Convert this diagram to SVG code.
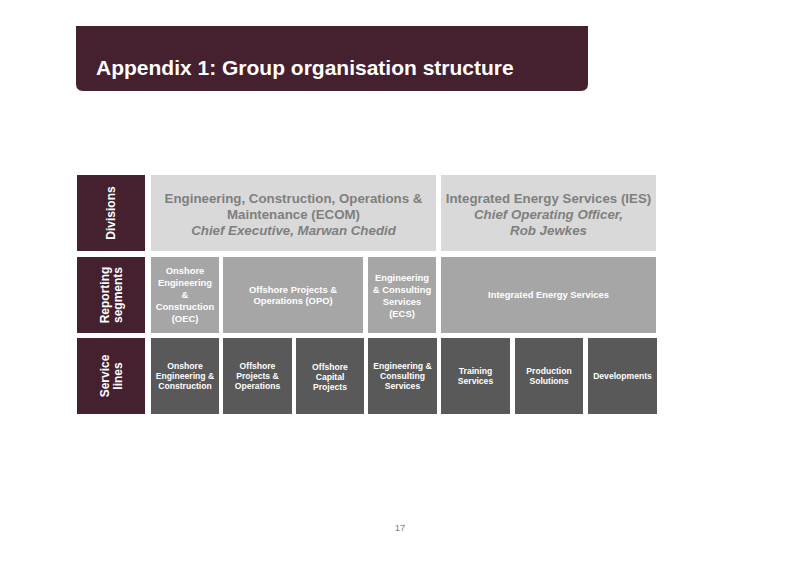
<svg xmlns="http://www.w3.org/2000/svg" width="800" height="566" viewBox="0 0 800 566">
<style>
text{font-family:"Liberation Sans",Arial,sans-serif;font-weight:bold}
.lab{fill:#45202f}
.labt{fill:#fff;font-size:12px}
.div{fill:#d9d9d9}
.divt{fill:#7f7f7f;font-size:13.3px}
.it{font-style:italic}
.seg{fill:#a6a6a6}
.segt{fill:#fff;font-size:9.4px}
.svc{fill:#595959}
.svct{fill:#fff;font-size:8.6px}
</style>
<rect width="800" height="566" fill="#fff"/>
<g id="title">
<path d="M76 26 H588 V84 Q588 91 581 91 H83 Q76 91 76 84 Z" fill="#45202f"/>
<text x="96" y="75" fill="#fff" font-size="21">Appendix 1: Group organisation structure</text>
</g>
<g id="label-divisions"><rect class="lab" x="77" y="175" width="68" height="76"/><text class="labt" transform="translate(115 213) rotate(-90)" text-anchor="middle">Divisions</text></g>
<g id="label-reporting"><rect class="lab" x="77" y="257" width="68" height="76"/><text class="labt" transform="translate(109 295) rotate(-90)" text-anchor="middle"><tspan x="0" y="0">Reporting</tspan><tspan x="0" y="13">segments</tspan></text></g>
<g id="label-service"><rect class="lab" x="77" y="338" width="68" height="76"/><text class="labt" transform="translate(109 376) rotate(-90)" text-anchor="middle"><tspan x="0" y="0">Service</tspan><tspan x="0" y="13">lines</tspan></text></g>
<g id="div-ecom"><rect class="div" x="151" y="175" width="285" height="76"/><text class="divt" text-anchor="middle"><tspan x="293.5" y="203">Engineering, Construction, Operations &amp;</tspan><tspan x="293.5" y="219">Maintenance (ECOM)</tspan><tspan class="it" x="293.5" y="235">Chief Executive, Marwan Chedid</tspan></text></g>
<g id="div-ies"><rect class="div" x="441" y="175" width="215" height="76"/><text class="divt" text-anchor="middle"><tspan x="548.5" y="203">Integrated Energy Services (IES)</tspan><tspan class="it" x="548.5" y="219">Chief Operating Officer,</tspan><tspan class="it" x="548.5" y="235">Rob Jewkes</tspan></text></g>
<g id="seg-oec"><rect class="seg" x="151" y="257" width="68" height="76"/><text class="segt" text-anchor="middle"><tspan x="185" y="274">Onshore</tspan><tspan x="185" y="286">Engineering</tspan><tspan x="185" y="298">&amp;</tspan><tspan x="185" y="310">Construction</tspan><tspan x="185" y="322">(OEC)</tspan></text></g>
<g id="seg-opo"><rect class="seg" x="223" y="257" width="140" height="76"/><text class="segt" text-anchor="middle"><tspan x="293" y="293">Offshore Projects &amp;</tspan><tspan x="293" y="304">Operations (OPO)</tspan></text></g>
<g id="seg-ecs"><rect class="seg" x="368" y="257" width="68" height="76"/><text class="segt" text-anchor="middle"><tspan x="402" y="281">Engineering</tspan><tspan x="402" y="293">&amp; Consulting</tspan><tspan x="402" y="305">Services</tspan><tspan x="402" y="317">(ECS)</tspan></text></g>
<g id="seg-ies"><rect class="seg" x="441" y="257" width="215" height="76"/><text class="segt" text-anchor="middle" x="548.5" y="298">Integrated Energy Services</text></g>
<g id="svc-oec"><rect class="svc" x="151" y="338" width="68" height="76"/><text class="svct" text-anchor="middle"><tspan x="185" y="369">Onshore</tspan><tspan x="185" y="379">Engineering &amp;</tspan><tspan x="185" y="389">Construction</tspan></text></g>
<g id="svc-opo"><rect class="svc" x="223" y="338" width="69" height="76"/><text class="svct" text-anchor="middle"><tspan x="257.5" y="369">Offshore</tspan><tspan x="257.5" y="379">Projects &amp;</tspan><tspan x="257.5" y="389">Operations</tspan></text></g>
<g id="svc-ocp"><rect class="svc" x="296" y="338" width="68" height="76"/><text class="svct" text-anchor="middle"><tspan x="330" y="370">Offshore</tspan><tspan x="330" y="380">Capital</tspan><tspan x="330" y="390">Projects</tspan></text></g>
<g id="svc-ecs"><rect class="svc" x="368" y="338" width="69" height="76"/><text class="svct" text-anchor="middle"><tspan x="402.5" y="369">Engineering &amp;</tspan><tspan x="402.5" y="379">Consulting</tspan><tspan x="402.5" y="389">Services</tspan></text></g>
<g id="svc-training"><rect class="svc" x="441" y="338" width="69" height="76"/><text class="svct" text-anchor="middle"><tspan x="475.5" y="374">Training</tspan><tspan x="475.5" y="384">Services</tspan></text></g>
<g id="svc-production"><rect class="svc" x="515" y="338" width="68" height="76"/><text class="svct" text-anchor="middle"><tspan x="549" y="374">Production</tspan><tspan x="549" y="384">Solutions</tspan></text></g>
<g id="svc-dev"><rect class="svc" x="588" y="338" width="69" height="76"/><text class="svct" text-anchor="middle" x="622.5" y="379">Developments</text></g>
<g id="connectors"/>
<text x="400" y="531" fill="#7f7f7f" font-size="9.5" text-anchor="middle" style="font-weight:normal">17</text>
</svg>
